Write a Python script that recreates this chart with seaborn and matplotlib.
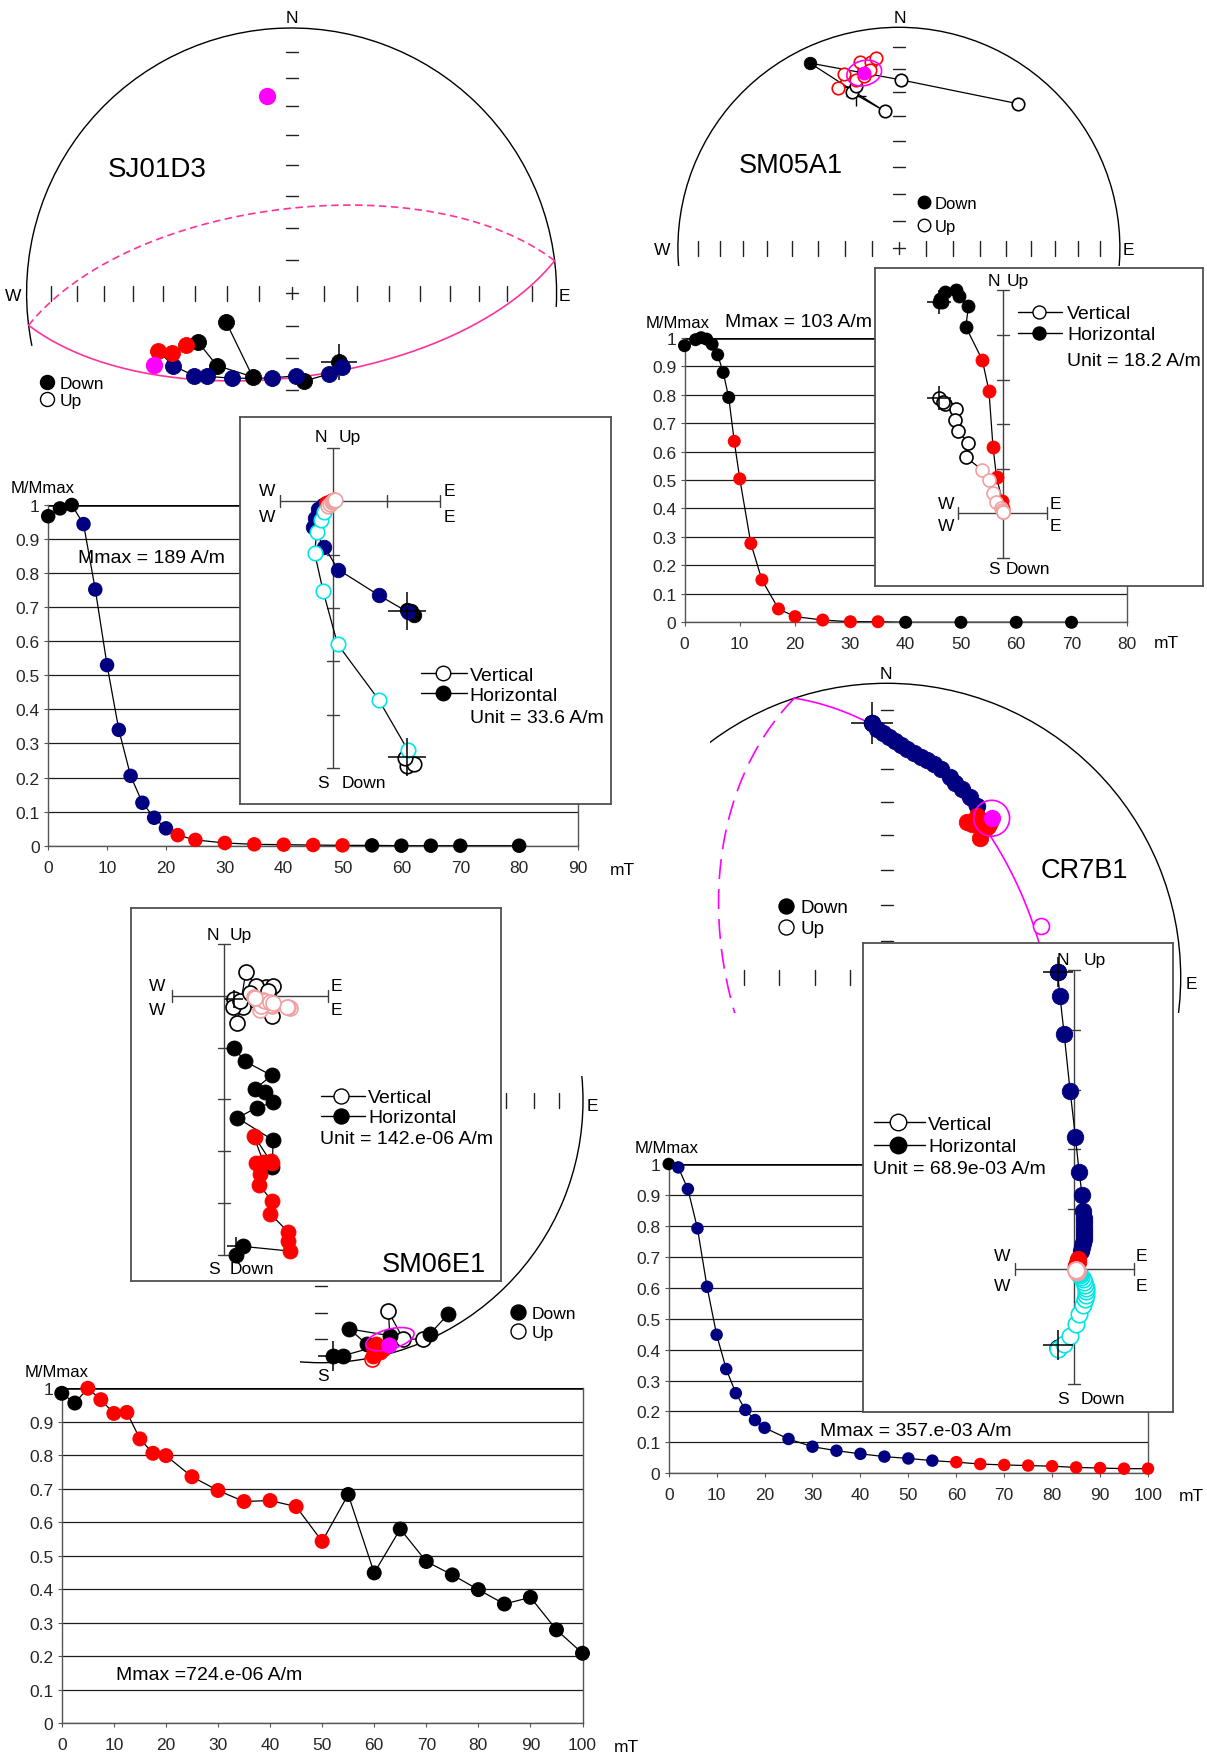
import numpy as np
import pandas as pd
import matplotlib
matplotlib.use("Agg")
import matplotlib.pyplot as plt
import matplotlib.transforms as mtransforms
from matplotlib.patches import Arc, Ellipse, Circle
import seaborn as sns

# ======================= DATA =======================
# ---- SJ01D3 ----
sj_field = [0, 2, 4, 6, 8, 10, 12, 14, 16, 18, 20, 22, 25, 30, 35, 40, 45, 50, 55, 60, 65, 70, 80]
sj_m = [0.967, 0.990, 1.000, 0.944, 0.752, 0.530, 0.340, 0.205, 0.126, 0.082, 0.051, 0.031, 0.017,
        0.008, 0.004, 0.003, 0.002, 0.001, 0.001, 0.000, 0.000, 0.000, 0.000]
sj_step = list("kkknnnnnnnnrrrrrrrkkkkk")
sj_st_x = [0.179, 0.192, 0.140, 0.045, 0.016, -0.074, -0.224, -0.319, -0.368, -0.448, -0.503, -0.452,
           -0.398, -0.352, -0.282, -0.147, -0.248]
sj_st_y = [-0.262, -0.280, -0.306, -0.333, -0.312, -0.321, -0.322, -0.314, -0.312, -0.274, -0.218, -0.226,
           -0.196, -0.186, -0.274, -0.316, -0.108]
sj_st_c = list("knnknnnnnnrrrkkkk")
sj_st_f = [1] * 17
sj_mean = (-0.518, -0.272)
sj_pole = (353.0, 26.0)
sj_nrm = (0.179, -0.262)
sjz_hx = [1.39, 1.52, 1.45, 1.40, 0.85, 0.09, -0.17, -0.39, -0.35, -0.28, -0.20, -0.13, -0.08, -0.05, -0.03, -0.01, 0.00, 0.01]
sjz_hy = [-2.04, -2.13, -2.06, -2.08, -1.76, -1.28, -0.85, -0.49, -0.31, -0.15, -0.07, -0.04, -0.02, 0.00, 0.01, 0.02, 0.02, 0.02]
sjz_hc = list("kkknnnnnnnnrrrrrrr")
sjz_vx = [1.38, 1.52, 1.35, 1.40, 0.85, 0.08, -0.19, -0.35, -0.31, -0.23, -0.17, -0.10, -0.06, -0.03, 0.00, 0.01, 0.02, 0.03]
sjz_vy = [-4.96, -4.93, -4.81, -4.67, -3.72, -2.68, -1.69, -0.97, -0.57, -0.35, -0.21, -0.09, -0.05, -0.02, 0.00, 0.02, 0.03, 0.03]
sjz_vc = list("kkkccccccccppppppp")
sjz_hcross = (1.39, -2.06)
sjz_vcross = (1.39, -4.80)

# ---- SM05A1 ----
sm_field = [0, 2, 3, 4, 5, 6, 7, 8, 9, 10, 12, 14, 17, 20, 25, 30, 35, 40, 50, 60, 70]
sm_m = [0.972, 0.993, 1.000, 0.995, 0.977, 0.940, 0.878, 0.790, 0.636, 0.504, 0.277, 0.149, 0.047,
        0.020, 0.008, 0.002, 0.002, 0.000, 0.000, 0.000, 0.000]
sm_step = list("kkkkkkkkrrrrrrrrrkkkk")
sm_st_x = [0.540, 0.010, -0.402, -0.064, -0.214, -0.195, -0.276, -0.247, -0.193, -0.178, -0.124, -0.105, -0.129, -0.157]
sm_st_y = [0.654, 0.762, 0.838, 0.620, 0.706, 0.733, 0.724, 0.789, 0.762, 0.842, 0.842, 0.860, 0.808, 0.781]
sm_st_c = list("kkkkkkrrrrrrrr")
sm_st_f = [0, 0, 1, 0, 0, 0, 0, 0, 0, 0, 0, 0, 0, 0]
sm_mean = (-0.157, 0.793)
sm_nrm = (-0.195, 0.69)
smz_hx = [-1.44, -1.36, -1.30, -1.40, -1.06, -0.99, -0.77, -0.83, -0.46, -0.31, -0.22, -0.14, -0.01, 0.00, 0.00, 0.00, 0.00]
smz_hy = [4.74, 4.74, 4.96, 4.80, 5.01, 4.87, 4.64, 4.18, 3.44, 2.74, 1.49, 0.81, 0.28, 0.12, 0.06, 0.03, 0.02]
smz_hc = list("kkkkkkkkrrrrrrrrr")
smz_vx = [-1.43, -1.30, -1.35, -1.06, -1.07, -1.00, -0.78, -0.83, -0.46, -0.31, -0.21, -0.15, -0.04, -0.02, 0.00, 0.00, 0.00]
smz_vy = [2.58, 2.45, 2.50, 2.34, 2.10, 1.85, 1.57, 1.26, 0.97, 0.75, 0.45, 0.25, 0.13, 0.07, 0.03, 0.02, 0.02]
smz_vc = list("kkkkkkkkppppppppp")
smz_hcross = (-1.44, 4.74)
smz_vcross = (-1.43, 2.58)

# ---- CR7B1 ----
cr_field = [0, 2, 4, 6, 8, 10, 12, 14, 16, 18, 20, 25, 30, 35, 40, 45, 50, 55, 60, 65, 70, 75, 80, 85, 90, 95, 100]
cr_m = [1.000, 0.989, 0.919, 0.792, 0.603, 0.448, 0.337, 0.259, 0.205, 0.172, 0.147, 0.111, 0.086, 0.073,
        0.063, 0.054, 0.048, 0.041, 0.036, 0.030, 0.027, 0.025, 0.023, 0.019, 0.017, 0.015, 0.015]
cr_step = list("k" + "nnnnnnnnnnnnnnnnn" + "rrrrrrrrr")
cr_st_x = [-0.049, -0.049, -0.034, -0.014, 0.008, 0.028, 0.048, 0.070, 0.093, 0.115, 0.138, 0.160, 0.183, 0.215,
           0.234, 0.255, 0.282, 0.308, 0.272, 0.317, 0.329, 0.306, 0.346, 0.334, 0.290, 0.311, 0.351]
cr_st_y = [0.864, 0.864, 0.846, 0.832, 0.819, 0.804, 0.790, 0.776, 0.763, 0.751, 0.739, 0.726, 0.709, 0.681,
           0.662, 0.642, 0.612, 0.584, 0.527, 0.473, 0.533, 0.550, 0.516, 0.504, 0.521, 0.539, 0.528]
cr_st_c = list("k" + "nnnnnnnnnnnnnnnnn" + "rrrrrrrrr")
cr_st_f = [1] * 27
cr_mean = (0.357, 0.541)
cr_a95 = 0.061
cr_pole = (71.7, -44.0)
cr_nrm = (-0.049, 0.864)
crz_hx = [-0.28, -0.28, -0.24, -0.17, -0.07, 0.02, 0.08, 0.13, 0.15, 0.16, 0.17, 0.17, 0.17, 0.17, 0.16, 0.15,
          0.13, 0.12, 0.07, 0.06, 0.05, 0.05, 0.04, 0.04, 0.03, 0.03, 0.03]
crz_hy = [4.96, 4.96, 4.57, 3.93, 2.98, 2.20, 1.63, 1.24, 0.97, 0.85, 0.78, 0.70, 0.64, 0.57, 0.50, 0.43,
          0.36, 0.30, 0.16, 0.12, 0.10, 0.08, 0.07, 0.06, 0.05, 0.05, 0.04]
crz_hc = list("k" + "nnnnnnnnnnnnnnnnn" + "rrrrrrrrr")
crz_vx = [-0.28, -0.27, -0.18, -0.08, 0.03, 0.08, 0.14, 0.18, 0.19, 0.20, 0.19, 0.18, 0.16, 0.14, 0.12, 0.10,
          0.08, 0.06, 0.05, 0.04, 0.04, 0.04, 0.03, 0.03, 0.03, 0.03, 0.03]
crz_vy = [-1.32, -1.34, -1.25, -1.12, -0.92, -0.75, -0.61, -0.50, -0.43, -0.37, -0.31, -0.26, -0.21, -0.17,
          -0.13, -0.10, -0.08, -0.06, -0.05, -0.04, -0.03, -0.03, -0.02, -0.02, -0.02, -0.01, -0.01]
crz_vc = list("k" + "ccccccccccccccccc" + "ppppppppp")
crz_hcross = (-0.28, 4.96)
crz_vcross = (-0.28, -1.27)

# ---- SM06E1 ----
se_field = [0, 2.5, 5, 7.5, 10, 12.5, 15, 17.5, 20, 25, 30, 35, 40, 45, 50, 55, 60, 65, 70, 75, 80, 85, 90, 95, 100]
se_m = [0.985, 0.956, 1.000, 0.966, 0.925, 0.928, 0.849, 0.806, 0.799, 0.736, 0.695, 0.662, 0.665, 0.647,
        0.543, 0.683, 0.449, 0.580, 0.483, 0.443, 0.399, 0.356, 0.376, 0.279, 0.209]
se_step = list("kkrrrrrrrrrrrrrkkkkkkkkkk")
se_st_x = [0.047, 0.085, 0.200, 0.225, 0.200, 0.238, 0.210, 0.194, 0.174, 0.108, 0.263, 0.257, 0.314, 0.390, 0.416, 0.486]
se_st_y = [-0.973, -0.973, -0.941, -0.960, -0.973, -0.948, -0.929, -0.986, -0.929, -0.871, -0.897, -0.804,
           -0.910, -0.910, -0.890, -0.814]
se_st_c = list("kkrrrrrrkkkkkkkk")
se_st_f = [1, 1, 1, 1, 1, 1, 1, 0, 1, 1, 1, 0, 0, 0, 1, 1]
se_mean = (0.260, -0.931)
se_ell = (0.263, -0.910, 0.19, 0.076, 15)
se_nrm = (0.047, -0.973)
sez_hx = [0.23, 0.37, 1.27, 1.24, 1.24, 0.89, 0.92, 0.68, 0.69, 0.92, 0.61, 0.76, 0.57, 0.59, 0.90,
          0.93, 0.95, 0.26, 0.63, 0.95, 0.80, 0.60, 0.92, 0.41, 0.19]
sez_hy = [-5.00, -4.84, -4.93, -4.73, -4.56, -4.21, -3.96, -3.65, -3.44, -3.23, -3.23, -3.21, -2.70, -2.72, -3.20,
          -3.31, -2.79, -2.36, -2.16, -2.06, -1.85, -1.80, -1.54, -1.27, -1.01]
sez_hc = list("kkrrrrrrrrrrrrrkkkkkkkkkk")
sez_vx = [0.20, 0.37, 1.28, 1.24, 1.22, 0.92, 0.90, 0.69, 0.72, 0.76, 0.80, 0.57, 0.60, 0.88, 0.95,
          0.93, 0.81, 0.95, 0.62, 0.42, 0.26, 0.18, 0.30, 0.50, 0.85]
sez_vy = [-0.06, -0.22, -0.24, -0.22, -0.21, -0.19, -0.17, -0.27, -0.20, -0.08, -0.10, -0.03, -0.05, -0.12, -0.15,
          -0.39, 0.16, 0.18, 0.19, 0.45, -0.53, -0.22, -0.10, 0.05, 0.10]
sez_vc = list("kkpppppppppppppkkkkkkkkkk")
sez_hcross = (0.23, -4.84)
sez_vcross = (0.20, -0.06)

# ======================= STYLE =======================
W, H, DPI = 1207, 1756, 100
sns.set_style("white")
plt.rcParams["font.family"] = ["Liberation Sans", "DejaVu Sans"]
plt.rcParams["lines.scale_dashes"] = False

COL = {"k": "#000000", "n": "#000080", "r": "#ff0000", "m": "#ff00ff",
       "c": "#00e5e5", "p": "#f0a0a0"}
MAG = "#ff00ff"

fig = plt.figure(figsize=(W / DPI, H / DPI), dpi=DPI, facecolor="white")
PX = mtransforms.Affine2D().scale(1.0 / W, -1.0 / H).translate(0, 1) + fig.transFigure


def sz(d):
    return (d * 72.0 / DPI) ** 2


def pt(d):
    return d * 72.0 / DPI


def new_axes(x0, y0, x1, y1, z):
    ax = fig.add_axes([x0 / W, 1 - y1 / H, (x1 - x0) / W, (y1 - y0) / H])
    ax.set_zorder(z)
    return ax


def label(ax, x, y, s, size=12.5, ha="center"):
    ax.text(x, y, s, transform=PX, fontsize=size, ha=ha, va="center_baseline", color="black")


def px_marker(ax, x, y, d, filled, color="black"):
    ax.plot([x], [y], "o", transform=PX, ms=pt(d), mfc=color if filled else "white",
            mec=color, mew=1.0, clip_on=False)


def points(ax, x, y, codes, filled, d, order, zorder=5):
    df = pd.DataFrame({"x": x, "y": y, "c": codes, "f": filled})
    for code in order:
        for f in (0, 1):
            sub = df[(df.c == code) & (df.f == f)]
            if sub.empty:
                continue
            sns.scatterplot(data=sub, x="x", y="y", ax=ax, s=sz(d),
                            color=COL[code] if f else "white", edgecolor=COL[code],
                            linewidth=0.6 if f else 1.2, legend=False, zorder=zorder, clip_on=False)
    ax.set_xlabel("")
    ax.set_ylabel("")


def ea(k):
    return np.sqrt(2) * np.sin(np.radians(5.0 * k))


def project(vec):
    n, e, dn = vec
    h = np.hypot(n, e)
    r = np.sqrt(1 - np.abs(dn))
    return r * e / h, r * n / h


def dir_xy(dec, inc):
    d, i = np.radians(dec), np.radians(inc)
    return project(np.array([np.cos(i) * np.cos(d), np.cos(i) * np.sin(d), np.sin(i)]))


def great_circle(ax, dec, inc, color, lw, dashes):
    d, i = np.radians(dec), np.radians(inc)
    p = np.array([np.cos(i) * np.cos(d), np.cos(i) * np.sin(d), np.sin(i)])
    u = np.cross(p, [0, 0, 1.0]); u /= np.linalg.norm(u)
    v = np.cross(p, u); v /= np.linalg.norm(v)
    if v[2] < 0:
        v = -v
    t = np.linspace(0, np.pi, 500)
    lower = np.outer(u, np.cos(t)) + np.outer(v, np.sin(t))
    upper = np.outer(u, np.cos(t)) - np.outer(v, np.sin(t))
    x, y = project(lower)
    ax.plot(x, y, color=color, lw=lw, zorder=2)
    x, y = project(upper)
    ax.plot(x, y, color=color, lw=lw, linestyle=(0, dashes), zorder=2)


def stereo_axes(rect, c, R, z):
    x0, y0, x1, y1 = rect
    ax = new_axes(x0, y0, x1, y1, z)
    ax.axis("off")
    lims = ((x0 - c[0]) / R, (x1 - c[0]) / R, (c[1] - y1) / R, (c[1] - y0) / R)
    return ax, lims


def stereo_frame(ax, R, t1, t2, east, west, north, south, plus=True):
    ax.add_patch(Arc((0, 0), 2, 2, theta1=t1, theta2=t2, color="black", lw=1.0))
    tv, th = 7.5 / R, 6.0 / R
    kw = dict(color="#222222", lw=1.0, zorder=1)
    for k in east:
        r = ea(k); ax.plot([r, r], [-tv, tv], **kw)
    for k in west:
        r = ea(k); ax.plot([-r, -r], [-tv, tv], **kw)
    for k in north:
        r = ea(k); ax.plot([-th, th], [r, r], **kw)
    for k in south:
        r = ea(k); ax.plot([-th, th], [-r, -r], **kw)
    if plus:
        ax.plot([-th, th], [0, 0], **kw)
        ax.plot([0, 0], [-th, th], **kw)


def stereo_legend(ax, x, y1, y2, tx, d, size):
    px_marker(ax, x, y1, d, True)
    px_marker(ax, x, y2, d, False)
    label(ax, tx, y1, "Down", size=size, ha="left")
    label(ax, tx, y2, "Up", size=size, ha="left")


def zij(box, origin, unit, z, xr, yr, xt, yt, hx, hy, hc, vx, vy, vc, hcross, vcross,
        cross_px, d, lab, leg, unit_txt):
    x0, y0, x1, y1 = box
    ax = new_axes(x0, y0, x1, y1, z)
    ax.set_facecolor("white")
    for sp in ax.spines.values():
        sp.set_visible(True); sp.set_color("#505050"); sp.set_linewidth(1.3)
    ax.set_xticks([]); ax.set_yticks([])
    kw = dict(color="#404040", lw=1.0, zorder=1)
    ax.plot(xr, [0, 0], **kw)
    ax.plot([0, 0], yr, **kw)
    e = 6.0 / unit
    for xx in list(xr) + list(xt):
        ax.plot([xx, xx], [-e, e], **kw)
    for yy in list(yr) + list(yt):
        ax.plot([-e, e], [yy, yy], **kw)
    ax.plot(hx, hy, color="black", lw=0.9, zorder=2)
    ax.plot(vx, vy, color="black", lw=0.9, zorder=2)
    points(ax, hx, hy, hc, [1] * len(hx), d, ["k", "n", "r"], zorder=3)
    points(ax, vx, vy, vc, [0] * len(vx), d, ["k", "c", "p"], zorder=4)
    for cx, cy in (hcross, vcross):
        ax.plot([cx], [cy], marker="+", ms=pt(cross_px), mew=1.1, color="black", zorder=6, clip_on=False)
    for (x, y, s) in lab:
        label(ax, x, y, s, size=12.5)
    lx0, lx1, lxm, ly1, ly2, tx, ux, uy = leg
    for yy, f in ((ly1, False), (ly2, True)):
        ax.plot([lx0, lx1], [yy, yy], color="black", lw=1.0, transform=PX, clip_on=False)
        px_marker(ax, lxm, yy, d, f)
    label(ax, tx, ly1, "Vertical", size=14, ha="left")
    label(ax, tx, ly2, "Horizontal", size=14, ha="left")
    label(ax, ux, uy, unit_txt, size=14, ha="left")
    ax.set_xlim((x0 - origin[0]) / unit, (x1 - origin[0]) / unit)
    ax.set_ylim((origin[1] - y1) / unit, (origin[1] - y0) / unit)
    return ax


def mchart(rect, xmax, field, m, codes, d, z, mmax_txt, mmax_xy, lab_xy, mt_xy):
    x0, y0, x1, y1 = rect
    ax = new_axes(x0, y0, x1, y1, z)
    ax.patch.set_alpha(0)
    df = pd.DataFrame({"field": field, "m": m, "step": codes})
    sns.lineplot(data=df, x="field", y="m", color="black", linewidth=0.9, sort=False,
                 estimator=None, ax=ax, zorder=3)
    pal = {c: COL[c] for c in set(codes)}
    sns.scatterplot(data=df, x="field", y="m", hue="step", palette=pal, s=sz(d), linewidth=0,
                    legend=False, ax=ax, zorder=4, clip_on=False)
    ax.set_yticks(np.arange(11) / 10.0)
    ax.set_yticklabels(["0"] + ["0.%d" % i for i in range(1, 10)] + ["1"])
    ax.set_xticks(np.arange(0, xmax + 1, 10))
    ax.grid(axis="y", color="#1e1e1e", lw=0.9)
    ax.grid(axis="x", visible=False)
    ax.spines["top"].set_visible(False)
    for k in ("left", "bottom", "right"):
        ax.spines[k].set_visible(True)
        ax.spines[k].set_color("#555555")
        ax.spines[k].set_linewidth(1.0)
    ax.axhline(1.0, color="black", lw=1.8, zorder=2)
    ax.set_xlim(0, xmax)
    ax.set_ylim(0, 1)
    ax.set_xlabel("")
    ax.set_ylabel("")
    ax.tick_params(axis="x", bottom=True, length=3, width=0.8, pad=7, labelsize=12.5, color="#555555")
    ax.tick_params(axis="y", left=True, length=3, width=0.8, pad=3, labelsize=12.5, color="#555555")
    label(ax, mmax_xy[0], mmax_xy[1], mmax_txt, size=14, ha="left")
    label(ax, lab_xy[0], lab_xy[1], "M/Mmax", size=12, ha="left")
    label(ax, mt_xy[0], mt_xy[1], "mT", size=12.5, ha="left")
    return ax


# ======================= SJ01D3 =======================
R = 265.0
ax, lims = stereo_axes((0, 0, 605, 418), (291.6, 294.0), R, 1)
stereo_frame(ax, R, -3.0, 191.5, range(1, 9), range(1, 9), range(1, 9), range(1, 4))
great_circle(ax, sj_pole[0], sj_pole[1], "#ff3399", 1.2, (5.4, 3.2))
ax.plot(sj_st_x, sj_st_y, color="black", lw=0.9, zorder=3)
points(ax, sj_st_x, sj_st_y, sj_st_c, sj_st_f, 16, ["k", "n", "r"])
px_, py_ = dir_xy(*sj_pole)
sns.scatterplot(x=[px_, sj_mean[0]], y=[py_, sj_mean[1]], color=MAG, edgecolor=MAG, s=sz(16),
                ax=ax, zorder=6, legend=False)
ax.plot([sj_nrm[0]], [sj_nrm[1]], marker="+", ms=pt(36), mew=1.1, color="black", zorder=2)
label(ax, 291.6, 17, "N")
label(ax, 13.4, 295, "W")
label(ax, 564.5, 295, "E")
label(ax, 157.5, 167, "SJ01D3", size=20)
stereo_legend(ax, 47, 383, 400, 59.5, 14, 12.5)
ax.set_xlim(lims[0], lims[1]); ax.set_ylim(lims[2], lims[3])

mchart((48.2, 506.0, 578.0, 846.7), 90, sj_field, sj_m, sj_step, 14.5, 2,
       "Mmax = 189 A/m", (78.4, 556.7), (10.5, 487), (610, 869))

zij((240, 418, 611.5, 805), (333.3, 502.3), 53.3, 3, [-1, 2], [-5, 1], [1], [-1, -2, -3, -4],
    sjz_hx, sjz_hy, sjz_hc, sjz_vx, sjz_vy, sjz_vc, sjz_hcross, sjz_vcross, 38, 14.5,
    [(321, 436, "N"), (350, 436, "Up"), (267, 490, "W"), (267, 516, "W"), (449.6, 490, "E"),
     (449.6, 516, "E"), (323.4, 781.7, "S"), (363.8, 781.7, "Down")],
    (421, 466.6, 443, 674.3, 694.3, 469.7, 469.7, 716.7), "Unit = 33.6 A/m")

# ======================= SM05A1 =======================
R = 221.0
ax, lims = stereo_axes((605, 0, 1207, 267), (898.9, 249.3), R, 4)
stereo_frame(ax, R, -10, 190, range(1, 9), range(1, 9), range(1, 9), [])
ax.plot(sm_st_x, sm_st_y, color="black", lw=0.9, zorder=3)
points(ax, sm_st_x, sm_st_y, sm_st_c, sm_st_f, 12.5, ["k", "r"])
sns.scatterplot(x=[sm_mean[0]], y=[sm_mean[1]], color=MAG, edgecolor=MAG, s=sz(13), ax=ax, zorder=6, legend=False)
ax.add_patch(Ellipse(sm_mean, 0.16, 0.113, angle=15, fill=False, ec=MAG, lw=1.2, zorder=6))
ax.plot([sm_nrm[0]], [sm_nrm[1]], marker="+", ms=pt(20), mew=1.0, color="black", zorder=2)
label(ax, 899.6, 16.7, "N")
label(ax, 661.7, 249, "W")
label(ax, 1128.2, 249, "E")
label(ax, 791, 162.7, "SM05A1", size=19.5)
stereo_legend(ax, 923.9, 202.7, 226, 934.7, 12.5, 12)
ax.set_xlim(lims[0], lims[1]); ax.set_ylim(lims[2], lims[3])

mchart((684.5, 338.7, 1126.8, 623.3), 80, sm_field, sm_m, sm_step, 13, 5,
       "Mmax = 103 A/m", (725, 320.7), (645.5, 321.7), (1154, 641.7))

zij((874.7, 269.3, 1203, 587.3), (1002.8, 514.3), 44.6, 6, [-1, 1], [-1, 5], [], [1, 2, 3, 4],
    smz_hx, smz_hy, smz_hc, smz_vx, smz_vy, smz_vc, smz_hcross, smz_vcross, 24, 13,
    [(994.3, 280, "N"), (1018.2, 280, "Up"), (945.7, 502.7, "W"), (945.7, 525, "W"),
     (1055.8, 502.7, "E"), (1055.8, 525, "E"), (993.6, 568.3, "S"), (1027.4, 568.3, "Down")],
    (1018, 1062.4, 1038.5, 312.7, 334, 1067, 1067, 360), "Unit = 18.2 A/m")

# ======================= CR7B1 =======================
R = 294.0
ax, lims = stereo_axes((710, 660, 1207, 1013.5), (886.7, 978.3), R, 7)
stereo_frame(ax, R, 0, 360, [], range(1, 5), range(1, 9), [], plus=False)
great_circle(ax, cr_pole[0], cr_pole[1], MAG, 1.2, (14.4, 7.2))
points(ax, cr_st_x, cr_st_y, cr_st_c, cr_st_f, 16.5, ["k", "n", "r"])
sns.scatterplot(x=[cr_mean[0]], y=[cr_mean[1]], color=MAG, edgecolor=MAG, s=sz(16), ax=ax, zorder=6, legend=False)
ax.add_patch(Circle(cr_mean, cr_a95, fill=False, ec=MAG, lw=1.2, zorder=6))
px_, py_ = dir_xy(*cr_pole)
sns.scatterplot(x=[px_], y=[py_], color="white", edgecolor=MAG, linewidth=1.2, s=sz(16), ax=ax, zorder=6, legend=False)
ax.plot([cr_nrm[0]], [cr_nrm[1]], marker="+", ms=pt(42), mew=1.1, color="black", zorder=2)
label(ax, 886, 672.7, "N")
label(ax, 1191.7, 983.3, "E")
label(ax, 1084.3, 868.3, "CR7B1", size=19.5)
stereo_legend(ax, 785.7, 906.7, 927.7, 800.7, 15, 13.5)
ax.set_xlim(lims[0], lims[1]); ax.set_ylim(lims[2], lims[3])

mchart((668.7, 1165.0, 1148.0, 1474.3), 100, cr_field, cr_m, cr_step, 12.5, 8,
       "Mmax = 357.e-03 A/m", (820, 1429.3), (634.5, 1146.7), (1178.5, 1495))

zij((863.3, 944, 1173.3, 1412.7), (1074.3, 1270), 59.8, 9, [-1, 1], [-1.93, 5], [], [1, 2, 3, 4, -1],
    crz_hx, crz_hy, crz_hc, crz_vx, crz_vy, crz_vc, crz_hcross, crz_vcross, 30, 16.5,
    [(1063.3, 959.3, "N"), (1094.3, 959.3, "Up"), (1001.7, 1255, "W"), (1001.7, 1285, "W"),
     (1141.7, 1255, "E"), (1141.7, 1285, "E"), (1062.7, 1398.3, "S"), (1102.7, 1398.3, "Down")],
    (874, 925, 898.3, 1123.3, 1145.7, 928.3, 873.3, 1167.7), "Unit = 68.9e-03 A/m")

# ======================= SM06E1 =======================
R = 262.0
ax, lims = stereo_axes((300, 1077, 620, 1386), (321.0, 1101.7), R, 10)
stereo_frame(ax, R, 0, 360, range(1, 9), [], [], range(1, 9), plus=False)
ax.plot(se_st_x, se_st_y, color="black", lw=0.9, zorder=3)
points(ax, se_st_x, se_st_y, se_st_c, se_st_f, 15, ["k", "r"])
sns.scatterplot(x=[se_mean[0]], y=[se_mean[1]], color=MAG, edgecolor=MAG, s=sz(15), ax=ax, zorder=6, legend=False)
ax.add_patch(Ellipse(se_ell[:2], se_ell[2], se_ell[3], angle=se_ell[4], fill=False, ec=MAG, lw=1.2, zorder=6))
ax.plot([se_nrm[0]], [se_nrm[1]], marker="+", ms=pt(30), mew=1.1, color="black", zorder=2)
label(ax, 592.7, 1105, "E")
label(ax, 323.3, 1375, "S")
stereo_legend(ax, 518.3, 1312.7, 1331.7, 531.7, 15, 12.5)
ax.set_xlim(lims[0], lims[1]); ax.set_ylim(lims[2], lims[3])

zij((130.7, 909.3, 500.7, 1281.7), (224, 996.7), 51.8, 11, [-1, 2], [-5, 1], [1], [-1, -2, -3, -4],
    sez_hx, sez_hy, sez_hc, sez_vx, sez_vy, sez_vc, sez_hcross, sez_vcross, 18, 15,
    [(213.3, 934.3, "N"), (241, 934.3, "Up"), (157.3, 985, "W"), (157.3, 1009.3, "W"),
     (336, 985, "E"), (336, 1009.3, "E"), (214.3, 1268.3, "S"), (252.3, 1268.3, "Down")],
    (321, 365, 341, 1096.7, 1116.7, 368.3, 320, 1137.7), "Unit = 142.e-06 A/m")
axz = fig.axes[-1]
label(axz, 434.3, 1262.3, "SM06E1", size=19.5)

mchart((61.8, 1389.3, 582.5, 1724.3), 100, se_field, se_m, se_step, 15, 12,
       "Mmax =724.e-06 A/m", (116, 1674), (24.5, 1370.7), (613.6, 1746))

fig.savefig("out.png", dpi=DPI, facecolor="white")
